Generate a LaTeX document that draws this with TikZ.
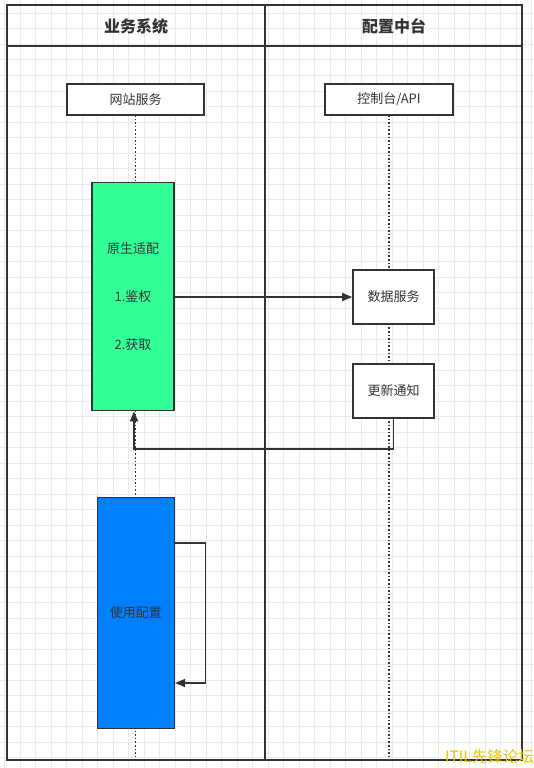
\documentclass[tikz,border=0pt]{standalone}
\usepackage{fontspec}
\setmainfont{Noto Sans CJK SC}
\usetikzlibrary{arrows.meta}
\definecolor{ink}{RGB}{51,51,51}
\definecolor{gridc}{RGB}{234,234,234}
\definecolor{greenbox}{RGB}{51,255,153}
\definecolor{bluebox}{RGB}{0,127,255}
\definecolor{wmark}{RGB}{232,200,0}
\tikzset{
  frame/.style={draw=ink, line width=2pt},
  lifeline/.style={draw=ink, line width=1.7pt, dash pattern=on 1.6pt off 2pt},
  actor/.style={draw=ink, line width=1.6pt, fill=white, rectangle, inner sep=0pt, font=\fontsize{13}{15}\selectfont, text=ink},
  act/.style={draw=ink, line width=1.6pt, rectangle, inner sep=0pt, font=\fontsize{13}{15}\selectfont, text=ink, align=center},
  msg/.style={draw=ink, line width=1.5pt, -{Triangle[length=10pt,width=8pt]}},
  head/.style={font=\fontsize{16}{19}\selectfont\bfseries, text=ink}
}
\begin{document}
\begin{tikzpicture}[x=1pt,y=-1pt]
\useasboundingbox (0,0) rectangle (534,768);
\fill[white] (0,0) rectangle (534,768);
% grid
\foreach \i in {0,...,34} {
  \draw[gridc, line width=1pt] ({4.5+15.5*\i},0) -- ({4.5+15.5*\i},768);
}
\foreach \j in {0,...,49} {
  \draw[gridc, line width=1pt] (0,{13.5+15.5*\j}) -- (534,{13.5+15.5*\j});
}
% frame
\draw[frame] (7,5) rectangle (522,760);
\draw[frame] (7,46.5) -- (522,46.5);
\draw[frame] (265,5) -- (265,760);
\node[head] (h1) at (136,26) {业务系统};
\node[head] (h2) at (394,26) {配置中台};
% lifelines
\coordinate (lbot) at (135.5,759);
\coordinate (rbot) at (389,759);
\draw[lifeline] (135.5,115) -- (lbot);
\draw[lifeline] (389,115) -- (rbot);
% actors
\node[actor, minimum width=137pt, minimum height=31pt] (wz) at (135.5,99.5) {网站服务};
\node[actor, minimum width=128pt, minimum height=31pt] (kz) at (389,99.5) {控制台/API};
% activations
\node[act, fill=greenbox, minimum width=82pt, minimum height=228pt] (gr) at (133,296.5) {原生适配\\[33pt]1.鉴权\\[33pt]2.获取};
\node[act, fill=white, minimum width=81pt, minimum height=54pt] (sj) at (393.5,297) {数据服务};
\node[act, fill=white, minimum width=81pt, minimum height=54pt] (gx) at (393.5,391) {更新通知};
\node[act, fill=bluebox, minimum width=77pt, minimum height=231pt] (bl) at (135.8,612.8) {使用配置};
% messages
\draw[msg] (gr.east |- sj.west) -- (sj.west);
\coordinate (turn) at (134,449);
\draw[msg] (gx.south) |- (turn) -- (turn |- gr.south);
\coordinate (l1) at (205.5,543);
\coordinate (l2) at (205.5,683);
\draw[msg] (bl.east |- l1) -- (l1) -- (l2) -- (bl.east |- l2);
% watermark
\node[font=\fontsize{15.5}{17}\selectfont, text=wmark, anchor=east, inner sep=0pt] (wm) at (534,757) {ITIL先锋论坛};
\end{tikzpicture}
\end{document}
